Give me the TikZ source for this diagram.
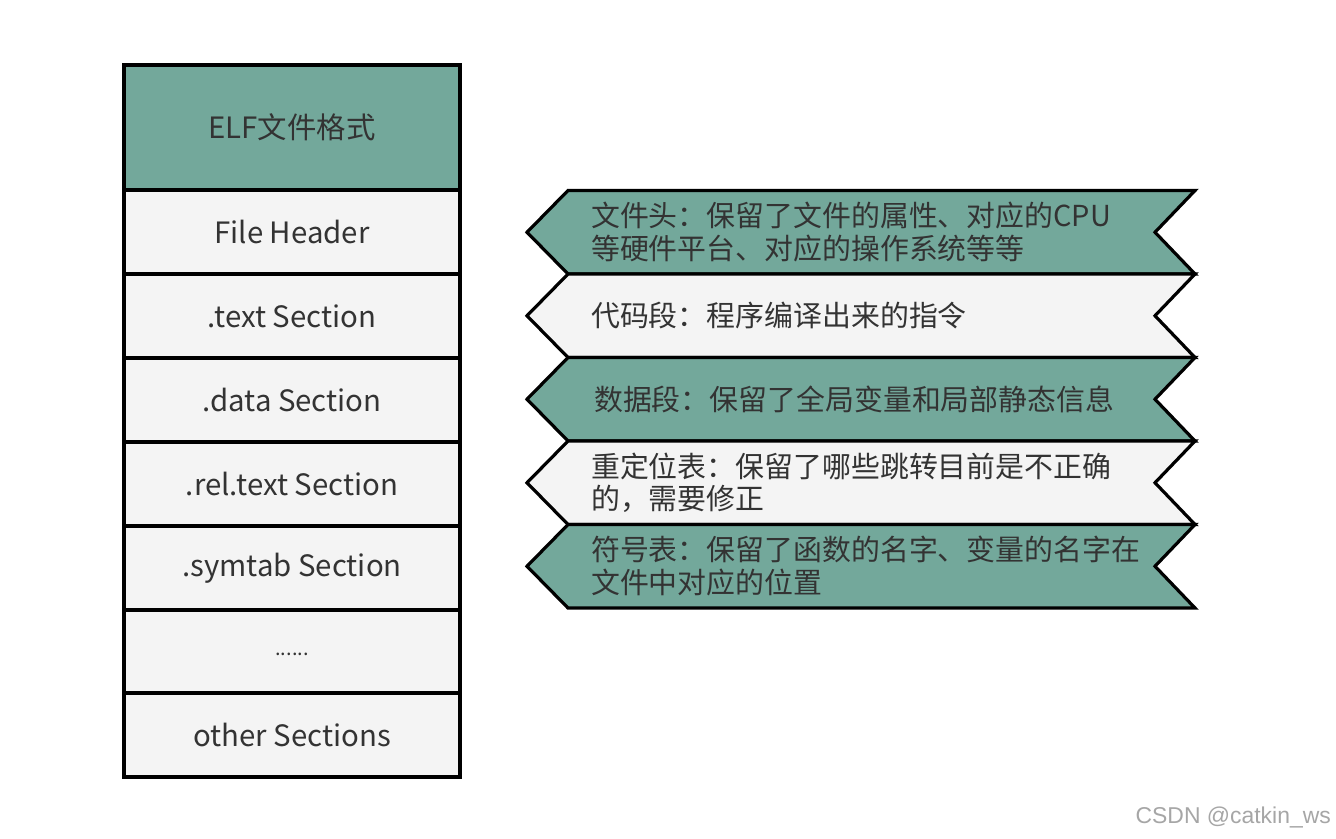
\documentclass[tikz,border=0pt]{standalone}
\usepackage{fontspec}
\setmainfont{Noto Sans CJK SC}
\newfontfamily\wmfont{Liberation Sans}
\definecolor{tealfill}{HTML}{73A89B}
\definecolor{lightfill}{HTML}{F4F4F4}
\definecolor{txt}{HTML}{333333}
\begin{document}
\begin{tikzpicture}[x=1bp,y=-1bp,
  cell/.style={draw=black, line width=3.2bp, minimum width=336bp, inner sep=0pt, text=txt,
    font=\fontsize{29.5}{34}\selectfont},
  lightcell/.style={cell, fill=lightfill},
  darkcell/.style={cell, fill=tealfill},
  chev/.style={draw=black, line width=3.2bp, line join=miter},
  chevtext/.style={anchor=west, align=left, inner sep=0pt, text=txt,
    font=\fontsize{29}{33}\selectfont}]
\useasboundingbox (0,0) rectangle (1336,838);
\fill[white] (0,0) rectangle (1336,838);
% left column
\node[darkcell, minimum height=125bp] (elf) at (292,127.5) {ELF文件格式};
\node[lightcell, minimum height=84bp] (fh) at (292,232) {File Header};
\node[lightcell, minimum height=84bp] (text) at (292,316) {.text Section};
\node[lightcell, minimum height=84bp] (data) at (292,400) {.data Section};
\node[lightcell, minimum height=84bp] (rel) at (292,484) {.rel.text Section};
\node[lightcell, minimum height=84bp] (sym) at (292,568) {.symtab Section};
\node[lightcell, minimum height=83bp] (dots) at (292,651.5) {\raisebox{-9bp}{\fontsize{20}{22}\selectfont ......}};
\node[lightcell, minimum height=84bp] (other) at (292,735) {other Sections};
% chevrons
\foreach \t/\b/\c in {190.5/274/tealfill, 274/357.5/lightfill, 357.5/441/tealfill, 441/524.5/lightfill, 524.5/608/tealfill}{
  \draw[chev, fill=\c] (568,\t) -- (1195,\t) -- (1155,{(\t+\b)/2}) -- (1195,\b) -- (568,\b) -- (527,{(\t+\b)/2}) -- cycle;
}
\node[chevtext] (c1) at (591,232.25) {文件头：保留了文件的属性、对应的CPU\\等硬件平台、对应的操作系统等等};
\node[chevtext] (c2) at (591,315.75) {代码段：程序编译出来的指令};
\node[chevtext] (c3) at (594,399.25) {数据段：保留了全局变量和局部静态信息};
\node[chevtext] (c4) at (591,482.75) {重定位表：保留了哪些跳转目前是不正确\\的，需要修正};
\node[chevtext] (c5) at (591,566.25) {符号表：保留了函数的名字、变量的名字在\\文件中对应的位置};
% watermark
\node[anchor=east, inner sep=0pt, text=black!35, font=\wmfont\fontsize{23}{26}\selectfont] (wm) at (1331,817) {CSDN @catkin\_ws};
\end{tikzpicture}
\end{document}
